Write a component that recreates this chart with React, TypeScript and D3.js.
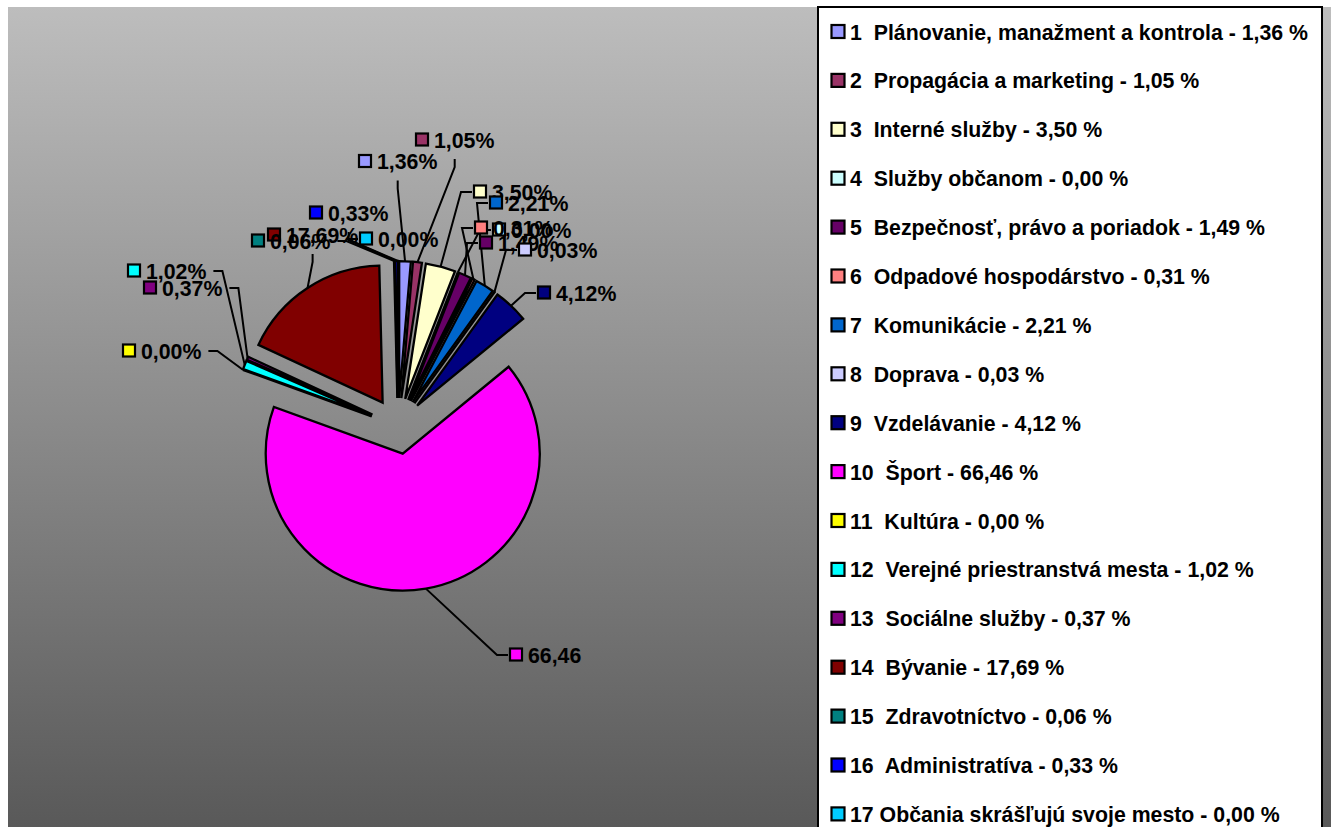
import React from "react";
import * as d3 from "d3";

const categories = [
  "Plánovanie, manažment a kontrola",
  "Propagácia a marketing",
  "Interné služby",
  "Služby občanom",
  "Bezpečnosť, právo a poriadok",
  "Odpadové hospodárstvo",
  "Komunikácie",
  "Doprava",
  "Vzdelávanie",
  "Šport",
  "Kultúra",
  "Verejné priestranstvá mesta",
  "Sociálne služby",
  "Bývanie",
  "Zdravotníctvo",
  "Administratíva",
  "Občania skrášľujú svoje mesto",
];

const values = [1.36, 1.05, 3.5, 0.0, 1.49, 0.31, 2.21, 0.03, 4.12, 66.46, 0.0, 1.02, 0.37, 17.69, 0.06, 0.33, 0.0];

const dataLabelTexts = [
  "1,36%", "1,05%", "3,50%", "0,00%", "1,49%", "0,31%", "2,21%", "0,03%", "4,12%",
  "66,46", "0,00%", "1,02%", "0,37%", "17,69%", "0,06%", "0,33%", "0,00%",
];

const colors = [
  "#9999FF", "#993366", "#FFFFCC", "#CCFFFF", "#660066", "#FF8080", "#0066CC", "#CCCCFF",
  "#000080", "#FF00FF", "#FFFF00", "#00FFFF", "#800080", "#800000", "#008080", "#0000FF", "#00CCFF",
];

// label layout (manually placed in the original): key-square left x, center y, leader attach side
const labelLeft = [358, 415, 473, 492, 479, 474, 489, 518, 537, 509, 122, 127, 143, 267, 251, 309, 359];
const labelMidY = [161.5, 140, 192, 230, 243, 228, 203, 250, 293, 655, 351, 271, 288, 235, 241, 213, 239];
const labelAttach = [
  "bottom", "bottom", "left", "left", "left", "left", "left", "left", "left",
  "left", "right", "right", "right", "bottom", "right", "bottom", "left",
];

const W = 1331;
const H = 827;
const FONT = "'Liberation Sans', Arial, Helvetica, sans-serif";
const FS = 21.3;

export default function App() {
  const cx = 398;
  const cy = 426;
  const R = 137;
  const explode = 28;

  const pie = d3
    .pie<number>()
    .sort(null)
    .value((d) => d)
    .startAngle(0)
    .endAngle(2 * Math.PI);
  const arcs = pie(values);
  const arcGen = d3.arc<d3.PieArcDatum<number>>().innerRadius(0).outerRadius(R);

  const measure = (s: string) => {
    const w: Record<string, number> = { ",": 0.278, "%": 0.889 };
    let t = 0;
    for (const c of s) t += w[c] ?? 0.556;
    return t * FS;
  };

  const legendTop = 7;
  const legendLeft = 818;
  const rowBase = 39.5;
  const rowStep = 48.9;

  return (
    <svg
      width={W}
      height={H}
      style={{ position: "absolute", left: 0, top: 0, display: "block" }}
      xmlns="http://www.w3.org/2000/svg"
    >
      <defs>
        <linearGradient id="bg" x1="0" y1="0" x2="0" y2="1">
          <stop offset="0%" stopColor="#bdbdbd" />
          <stop offset="100%" stopColor="#595959" />
        </linearGradient>
      </defs>
      <rect x={8} y={7} width={W - 8} height={H - 7} fill="url(#bg)" />

      {/* slices */}
      <g>
        {arcs.map((a, i) => {
          const mid = (a.startAngle + a.endAngle) / 2;
          const dx = explode * Math.sin(mid);
          const dy = -explode * Math.cos(mid);
          return (
            <path
              key={i}
              d={arcGen(a) || ""}
              transform={`translate(${cx + dx},${cy + dy})`}
              fill={colors[i]}
              stroke="#000"
              strokeWidth={2.3}
              strokeLinejoin="miter"
            />
          );
        })}
      </g>

      {/* leader lines */}
      <g fill="none" stroke="#000" strokeWidth={2}>
        {arcs.map((a, i) => {
          const mid = (a.startAngle + a.endAngle) / 2;
          const px = cx + (explode + R) * Math.sin(mid);
          const py = cy - (explode + R) * Math.cos(mid);
          const textW = measure(dataLabelTexts[i]);
          const boxL = labelLeft[i];
          const boxR = labelLeft[i] + 19 + textW;
          const y = labelMidY[i];
          let pts: [number, number][] = [];
          if (labelAttach[i] === "bottom") {
            const x = (boxL + boxR) / 2;
            pts = [[x, y + 19], [x, y + 27], [px, py]];
          } else if (labelAttach[i] === "left") {
            pts = [[boxL - 1, y], [boxL - 12, y], [px, py]];
          } else {
            pts = [[boxR + 7, y], [boxR + 16, y], [px, py]];
          }
          return <path key={i} d={d3.line()(pts) || ""} />;
        })}
      </g>

      {/* data labels */}
      <g fontFamily={FONT} fontWeight="bold" fontSize={FS} fill="#000">
        {arcs.map((a, i) => (
          <g key={i}>
            <rect
              x={labelLeft[i] + 1}
              y={labelMidY[i] - 6.5}
              width={12}
              height={12}
              fill={colors[i]}
              stroke="#000"
              strokeWidth={2.2}
            />
            <text x={labelLeft[i] + 19} y={labelMidY[i] + 7.6}>
              {dataLabelTexts[i]}
            </text>
          </g>
        ))}
      </g>

      {/* legend */}
      <rect x={legendLeft} y={legendTop} width={1322 - legendLeft} height={H + 10} fill="#fff" stroke="#000" strokeWidth={2} />
      <g fontFamily={FONT} fontWeight="bold" fontSize={FS} fill="#000">
        {categories.map((c, i) => {
          const base = rowBase + i * rowStep;
          const num = String(i + 1);
          const sep = i < 16 ? "  " : " ";
          const val = values[i].toFixed(2).replace(".", ",");
          return (
            <g key={i}>
              <rect x={831.5} y={base - 14.5} width={13} height={13} fill={colors[i]} stroke="#000" strokeWidth={2.2} />
              <text x={850} y={base} style={{ whiteSpace: "pre" }}>
                {`${num}${sep}${c} - ${val} %`}
              </text>
            </g>
          );
        })}
      </g>
    </svg>
  );
}
